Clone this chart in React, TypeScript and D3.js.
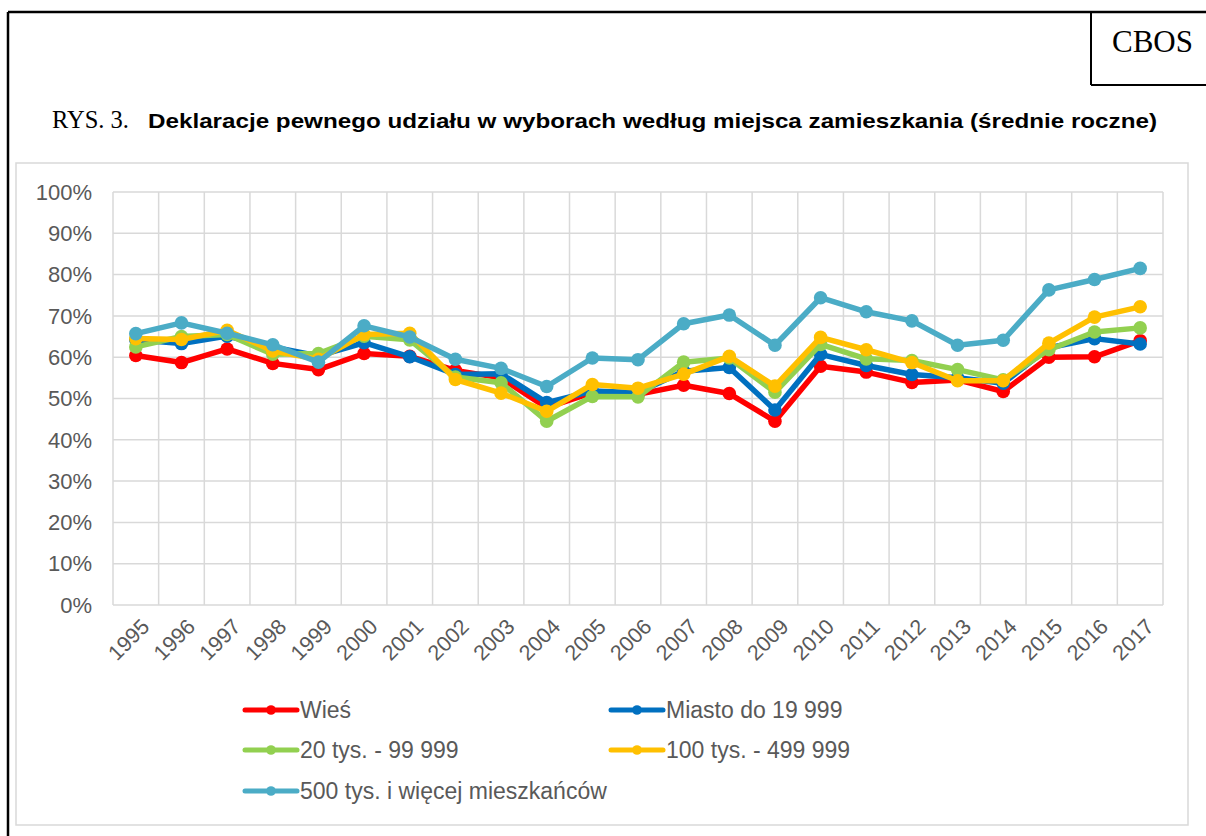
import React from "react";
import * as d3 from "d3";

const years = [
  "1995", "1996", "1997", "1998", "1999", "2000", "2001", "2002", "2003", "2004", "2005", "2006",
  "2007", "2008", "2009", "2010", "2011", "2012", "2013", "2014", "2015", "2016", "2017",
];

const wies = [60.4, 58.7, 62.0, 58.5, 57.0, 60.9, 60.2, 56.8, 55.0, 47.8, 51.4, 51.0, 53.2, 51.2, 44.5, 57.8, 56.4, 53.9, 54.5, 51.7, 60.0, 60.1, 64.0];
const miasto = [64.2, 63.3, 65.1, 62.5, 60.3, 63.5, 60.1, 55.8, 56.0, 49.0, 51.8, 51.4, 56.6, 57.5, 47.2, 60.7, 58.0, 55.8, 55.0, 53.7, 62.3, 64.5, 63.2];
const tys20 = [62.5, 65.0, 65.5, 60.7, 60.9, 65.1, 64.2, 55.2, 53.8, 44.5, 50.5, 50.4, 58.8, 59.8, 51.5, 63.1, 59.6, 59.2, 57.0, 54.5, 61.8, 66.1, 67.1];
const tys100 = [64.5, 64.3, 66.5, 61.5, 59.5, 65.5, 65.8, 54.6, 51.3, 46.9, 53.4, 52.5, 55.9, 60.2, 53.0, 64.8, 61.8, 58.7, 54.3, 54.3, 63.4, 69.7, 72.2];
const tys500 = [65.7, 68.3, 65.8, 63.0, 58.8, 67.6, 64.9, 59.5, 57.3, 52.9, 59.8, 59.4, 68.1, 70.2, 62.9, 74.4, 71.0, 68.8, 62.9, 64.1, 76.3, 78.8, 81.5];

const seriesNames = ["Wieś", "Miasto do 19 999", "20 tys. - 99 999", "100 tys. - 499 999", "500 tys. i więcej mieszkańców"];
const seriesValues = [wies, miasto, tys20, tys100, tys500];
const seriesColors = ["#FF0000", "#0070C0", "#92D050", "#FFC000", "#4BACC6"];

const yTicks = [0, 10, 20, 30, 40, 50, 60, 70, 80, 90, 100];

const W = 1206;
const H = 836;
const plot = { left: 113, right: 1163, top: 192, bottom: 605 };
const sans = "'Liberation Sans', Arial, sans-serif";
const serif = "'Liberation Serif', 'Times New Roman', serif";
const grey = "#595959";

export default function App() {
  const x = d3.scaleBand<string>().domain(years).range([plot.left, plot.right]);
  const y = d3.scaleLinear().domain([0, 100]).range([plot.bottom, plot.top]);
  const cx = (yr: string) => (x(yr) as number) + x.bandwidth() / 2;
  const line = d3
    .line<number>()
    .x((_, i) => cx(years[i]))
    .y((d) => y(d));

  const gridX = years.map((yr) => x(yr) as number).concat([plot.right]);

  // legend placement: two columns, three rows
  const legendPos = [
    { lx: 245, ly: 710 },
    { lx: 611, ly: 710 },
    { lx: 245, ly: 750 },
    { lx: 611, ly: 750 },
    { lx: 245, ly: 791 },
  ];

  return (
    <svg
      width={W}
      height={H}
      style={{ position: "absolute", left: 0, top: 0, background: "#fff" }}
    >
      {/* outer black frame */}
      <line x1={8} y1={12} x2={W} y2={12} stroke="#000" strokeWidth={2.5} />
      <line x1={8} y1={12} x2={8} y2={H} stroke="#000" strokeWidth={2.5} />
      {/* CBOS box */}
      <line x1={1091} y1={12} x2={1091} y2={85} stroke="#000" strokeWidth={2} />
      <line x1={1091} y1={85} x2={W} y2={85} stroke="#000" strokeWidth={2} />
      <text x={1112} y={52} fontFamily={serif} fontSize={31} fill="#000">
        CBOS
      </text>

      {/* title */}
      <text x={52} y={128} fontFamily={serif} fontSize={24.5} fill="#000">
        RYS. 3.
      </text>
      <text
        x={148}
        y={128}
        fontFamily={sans}
        fontWeight="bold"
        fontSize={21}
        fill="#000"
        textLength={1009}
        lengthAdjust="spacingAndGlyphs"
      >
        Deklaracje pewnego udziału w wyborach według miejsca zamieszkania (średnie roczne)
      </text>

      {/* chart area border */}
      <rect x={16} y={163} width={1172} height={662} fill="none" stroke="#d9d9d9" strokeWidth={1.5} />

      {/* grid */}
      {yTicks.map((t) => (
        <line key={"h" + t} x1={plot.left} x2={plot.right} y1={y(t)} y2={y(t)} stroke="#d9d9d9" strokeWidth={1.5} />
      ))}
      {gridX.map((gx, i) => (
        <line key={"v" + i} x1={gx} x2={gx} y1={plot.top} y2={plot.bottom} stroke="#d9d9d9" strokeWidth={1.5} />
      ))}

      {/* y axis labels */}
      {yTicks.map((t) => (
        <text
          key={"yl" + t}
          x={92}
          y={y(t)}
          dy="0.35em"
          textAnchor="end"
          fontFamily={sans}
          fontSize={22}
          fill={grey}
        >
          {t}%
        </text>
      ))}

      {/* x axis labels */}
      {years.map((yr) => (
        <text
          key={"xl" + yr}
          transform={`translate(${cx(yr) + 4}, 617) rotate(-45)`}
          dy="0.72em"
          textAnchor="end"
          fontFamily={sans}
          fontSize={21.5}
          fill={grey}
        >
          {yr}
        </text>
      ))}

      {/* series */}
      {seriesValues.map((vals, si) => (
        <g key={"s" + si}>
          <path d={line(vals) || ""} fill="none" stroke={seriesColors[si]} strokeWidth={5.5} strokeLinejoin="round" />
          {vals.map((v, i) => (
            <circle key={i} cx={cx(years[i])} cy={y(v)} r={6.8} fill={seriesColors[si]} />
          ))}
        </g>
      ))}

      {/* legend */}
      {seriesNames.map((name, si) => {
        const p = legendPos[si];
        return (
          <g key={"lg" + si}>
            <line x1={p.lx} x2={p.lx + 52} y1={p.ly} y2={p.ly} stroke={seriesColors[si]} strokeWidth={5} strokeLinecap="round" />
            <circle cx={p.lx + 26} cy={p.ly} r={4.8} fill={seriesColors[si]} />
            <text x={p.lx + 55} y={p.ly} dy="0.35em" fontFamily={sans} fontSize={23} fill={grey}>
              {name}
            </text>
          </g>
        );
      })}
    </svg>
  );
}
